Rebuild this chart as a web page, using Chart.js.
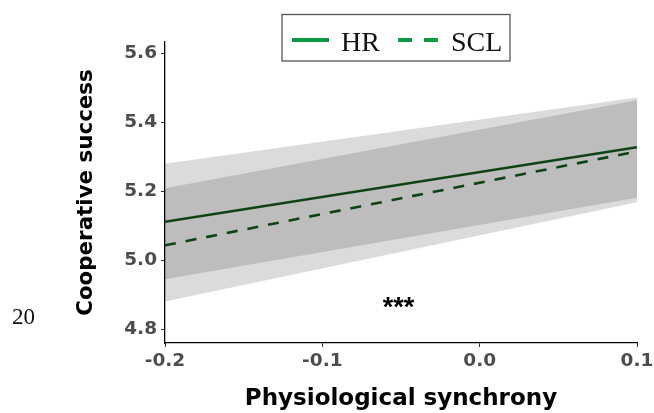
<!DOCTYPE html>
<html>
<head>
<meta charset="utf-8">
<script src="https://cdn.jsdelivr.net/npm/chart.js@4.4.1/dist/chart.umd.min.js"></script>
<style>
html,body{margin:0;padding:0;background:#fff;}
#wrap{width:654px;height:413px;}
</style>
</head>
<body>
<div id="wrap"><canvas id="canvas" width="654" height="413"></canvas></div>
<script>
// values
const synchrony=[-0.2,0.1];
const hrFit=[5.112,5.328];
const sclFit=[5.044,5.316];
const hrLow=[4.946,5.182];
const hrHigh=[5.280,5.472];
const sclLow=[4.881,5.169];
const sclHigh=[5.209,5.464];
const xTicks=[-0.2,-0.1,0.0,0.1];
const yTicks=[4.8,5.0,5.2,5.4,5.6];
const seriesNames=["HR","SCL"];

const lineGreen="#135d1c";
const legendGreen="#0d9a47";
const bandFill="rgba(0,0,0,0.14)";
const sans="'DejaVu Sans', 'Liberation Sans', sans-serif";
const serif="'Liberation Serif', 'Times New Roman', serif";

function pts(ys){
    return synchrony.map((x,i)=>({x:x,y:ys[i]}));
}
function band(ys){
    return {data:pts(ys),borderWidth:0,pointRadius:0,backgroundColor:bandFill,borderColor:"transparent"};
}

const extras={
    id:"extras",
    afterDraw(chart){
        const ctx=chart.ctx;
        ctx.save();
        // legend box
        ctx.strokeStyle="#555";
        ctx.lineWidth=1.3;
        ctx.strokeRect(282,14.5,228,46.5);
        ctx.strokeStyle=legendGreen;
        ctx.lineWidth=4;
        ctx.beginPath();
        ctx.moveTo(292,40);ctx.lineTo(329,40);
        ctx.stroke();
        ctx.setLineDash([14,12]);
        ctx.beginPath();
        ctx.moveTo(398,40);ctx.lineTo(441,40);
        ctx.stroke();
        ctx.setLineDash([]);
        ctx.fillStyle="#111";
        ctx.font="28px "+serif;
        ctx.textBaseline="alphabetic";
        ctx.textAlign="left";
        ctx.fillText(seriesNames[0],341,51);
        ctx.fillText(seriesNames[1],451,51);
        // stray panel label
        ctx.font="23px "+serif;
        ctx.fillText("20",12,324);
        // significance stars
        ctx.font="bold 27px 'Liberation Sans', Arial, sans-serif";
        ctx.textAlign="center";
        ctx.fillStyle="#000";
        ctx.fillText("***",398.5,316);
        ctx.restore();
    }
};

new Chart(document.getElementById("canvas"),{
    type:"line",
    data:{
        datasets:[
            Object.assign(band(hrHigh),{label:"hrHigh",fill:"+1"}),
            Object.assign(band(hrLow),{label:"hrLow",fill:false}),
            Object.assign(band(sclHigh),{label:"sclHigh",fill:"+1"}),
            Object.assign(band(sclLow),{label:"sclLow",fill:false}),
            {
                label:seriesNames[0],
                data:pts(hrFit),
                borderColor:lineGreen,
                borderWidth:2.6,
                pointRadius:0,
                fill:false
            },
            {
                label:seriesNames[1],
                data:pts(sclFit),
                borderColor:lineGreen,
                borderWidth:2.6,
                borderDash:[11,10],
                pointRadius:0,
                fill:false
            }
        ]
    },
    options:{
        responsive:false,
        animation:false,
        layout:{padding:{top:42,right:17,left:0,bottom:0}},
        plugins:{
            legend:{display:false},
            tooltip:{enabled:false}
        },
        scales:{
            x:{
                type:"linear",
                min:-0.2,
                max:0.1,
                afterBuildTicks:s=>{s.ticks=xTicks.map(v=>({value:v}));},
                afterFit:s=>{s.height=70;s.paddingLeft=0;s.paddingRight=0;},
                border:{display:true,color:"#000",width:1.3},
                grid:{drawOnChartArea:false,drawTicks:true,tickLength:4,color:"#333"},
                ticks:{
                    padding:3,
                    color:"#4d4d4d",
                    font:{family:sans,size:18.5,weight:"bold"},
                    maxRotation:0,
                    callback:v=>Number(v).toFixed(1)
                },
                title:{
                    display:true,
                    text:"Physiological synchrony",
                    color:"#000",
                    font:{family:sans,size:23,weight:"bold"},
                    padding:{top:0,bottom:0}
                }
            },
            y:{
                min:4.761,
                max:5.633,
                afterBuildTicks:s=>{s.ticks=yTicks.map(v=>({value:v}));},
                afterFit:s=>{s.width=165;s.paddingTop=0;s.paddingBottom=0;},
                border:{display:true,color:"#000",width:1.3},
                grid:{drawOnChartArea:false,drawTicks:true,tickLength:4,color:"#333"},
                ticks:{
                    padding:4,
                    color:"#4d4d4d",
                    font:{family:sans,size:18.5,weight:"bold"},
                    callback:v=>Number(v).toFixed(1)
                },
                title:{
                    display:true,
                    text:"Cooperative success",
                    color:"#000",
                    font:{family:sans,size:21.4,weight:"bold"},
                    padding:{top:74,bottom:0}
                }
            }
        }
    },
    plugins:[extras]
});
</script>
</body>
</html>
